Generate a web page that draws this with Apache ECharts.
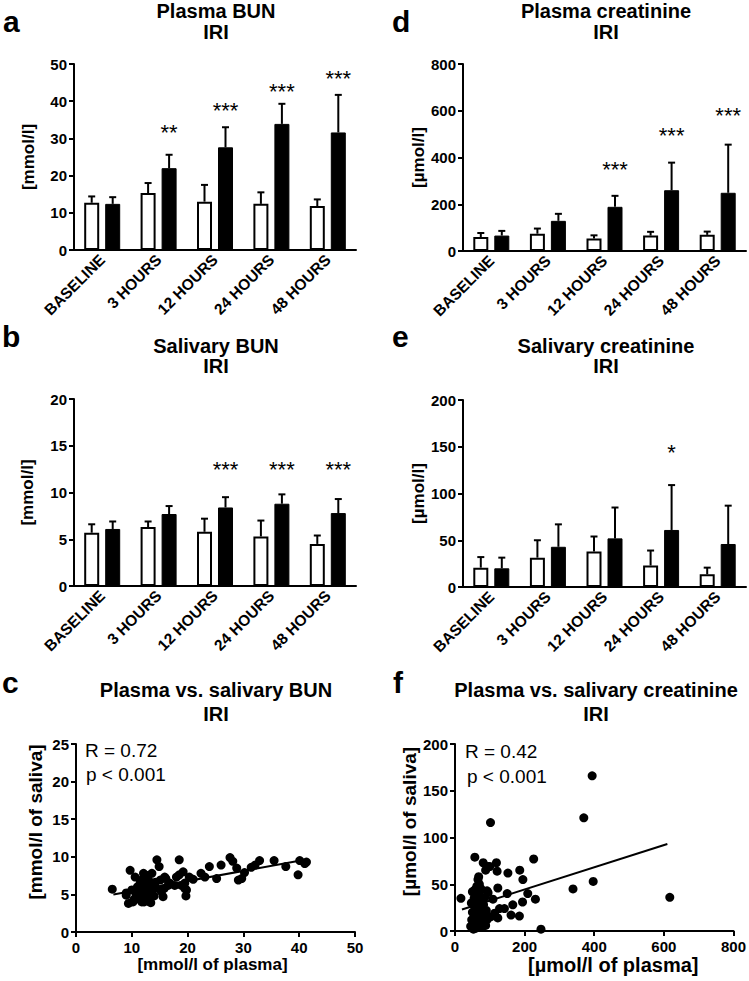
<!DOCTYPE html>
<html><head><meta charset="utf-8">
<script src="https://cdn.jsdelivr.net/npm/echarts@6/dist/echarts.min.js"></script>
<style>html,body{margin:0;padding:0;background:#fff}#c{width:749px;height:981px}</style>
</head><body><div id="c"></div>
<script>
// ---------- data ----------
const categories = ['BASELINE', '3 HOURS', '12 HOURS', '24 HOURS', '48 HOURS'];

// a: Plasma BUN [mmol/l]
const plasmaBunSham = [12.7, 15.3, 13.0, 12.4, 11.8];
const plasmaBunShamSD = [1.7, 2.7, 4.5, 3.1, 1.8];
const plasmaBunIri = [12.4, 22.0, 27.6, 33.9, 31.6];
const plasmaBunIriSD = [1.8, 3.6, 5.4, 5.4, 10.1];
const plasmaBunStars = ['', '**', '***', '***', '***'];
const plasmaBunStarY = [null, 32.8, 38.8, 44.0, 47.4];

// b: Salivary BUN [mmol/l]
const salivaBunSham = [5.7, 6.3, 5.8, 5.3, 4.5];
const salivaBunShamSD = [0.9, 0.6, 1.4, 1.7, 0.9];
const salivaBunIri = [6.1, 7.7, 8.4, 8.8, 7.8];
const salivaBunIriSD = [0.8, 0.85, 1.1, 1.0, 1.5];
const salivaBunStars = ['', '', '***', '***', '***'];
const salivaBunStarY = [null, null, 13.0, 13.0, 13.0];

// d: Plasma creatinine [µmol/l]
const plasmaCreaSham = [60, 74, 53, 66, 69];
const plasmaCreaShamSD = [17, 22, 14, 16, 14];
const plasmaCreaIri = [66, 129, 189, 260, 249];
const plasmaCreaIriSD = [20, 30, 47, 118, 206];
const plasmaCreaStars = ['', '', '***', '***', '***'];
const plasmaCreaStarY = [null, null, 368, 514, 601];

// e: Salivary creatinine [µmol/l]
const salivaCreaSham = [20.7, 31.4, 38, 23, 13.6];
const salivaCreaShamSD = [11.3, 18.6, 16, 16, 7.1];
const salivaCreaIri = [20, 43, 52, 61, 46];
const salivaCreaIriSD = [11.4, 24, 33, 48, 41];
const salivaCreaStars = ['', '', '', '*', ''];
const salivaCreaStarY = [null, null, null, 149, null];

// c: plasma vs salivary BUN [plasma, saliva]
const bunPairs = [
  [6.5,5.7],[9.0,4.9],[9.0,5.2],[9.4,3.8],[9.7,8.2],[10.0,5.6],[10.3,4.2],[10.6,7.3],[10.2,4.0],[10.8,5.0],
  [11.0,6.0],[11.2,4.4],[11.5,6.5],[11.5,5.6],[11.8,4.0],[12.0,5.2],[12.1,7.8],[12.3,6.8],[12.4,6.0],[12.5,4.6],
  [12.7,4.2],[12.7,6.5],[12.9,7.5],[13.0,6.9],[13.1,5.5],[13.3,5.1],[13.4,3.9],[13.6,7.8],[13.8,6.3],[13.9,5.8],
  [14.0,4.8],[14.2,6.6],[14.5,9.6],[14.9,8.7],[15.1,6.9],[15.3,5.4],[15.6,4.7],[15.8,5.8],[15.9,7.3],[16.1,7.1],
  [16.5,6.2],[16.8,6.5],[17.7,6.2],[18.0,7.3],[18.5,9.6],[18.5,7.6],[18.9,6.2],[19.2,8.0],[19.5,5.8],[19.5,6.5],
  [19.7,4.8],[19.8,5.6],[20.3,7.3],[21.0,7.0],[22.4,7.8],[23.1,7.3],[23.9,8.7],[25.2,7.1],[26.0,8.9],[27.6,9.9],
  [28.1,9.4],[28.8,8.5],[29.1,6.9],[29.7,7.1],[30.2,7.9],[31.4,8.6],[32.1,8.9],[32.9,9.5],[35.5,9.5],[37.6,8.7],
  [39.8,7.6],[40.1,9.5],[41.0,9.1],[41.3,9.3],[11.4,5.0],[10.5,4.4],[12.2,4.0],[14.3,5.9],[13.0,4.1],[11.9,7.0]
];
const bunFit = [[6.7, 5.0], [41.0, 9.6]];

// f: plasma vs salivary creatinine [plasma, saliva]
const creaPairs = [
  [17,35],[394,166],[370,121],[102,116],[226,77],[57,79],[397,53],[339,45],[617,36],[247,2],
  [186,65],[195,55],[152,62],[119,73],[121,64],[81,73],[95,69],[88,65],[209,40],[231,34],
  [194,31],[123,46],[166,28],[142,24],[128,24],[114,19],[161,17],[185,16],[123,14],[102,15],
  [95,41],[150,40],[66,55],[68,58],[57,44],[92,43],[109,34],[100,69],
  [45,5],[48,12],[50,20],[52,28],[55,8],[55,35],[58,15],[58,40],[60,3],[60,25],[62,10],[62,32],
  [64,18],[65,42],[66,5],[67,22],[68,30],[70,12],[70,38],[72,8],[72,26],[74,16],[75,33],[77,4],
  [78,20],[80,10],[82,28],[85,15],[86,36],[88,6],[90,22],[92,12],[50,42],[53,2],[47,30],[63,48],
  [70,50],[75,45],[56,18],[60,45]
];
const creaFit = [[20, 23], [610, 93]];

// ---------- style ----------
const FONT = '"Liberation Sans", Arial, Helvetica, sans-serif';
const BAR_W = 15, GAP = '40%', OFF = 10.5, CAP = 3.5;

const grids = [
  {left: 74, top: 64, width: 282, height: 186},   // a
  {left: 74, top: 399, width: 282, height: 187},  // b
  {left: 76, top: 744, width: 279, height: 188},  // c
  {left: 463, top: 64, width: 283, height: 187},  // d
  {left: 463, top: 400, width: 283, height: 187}, // e
  {left: 455, top: 744, width: 281, height: 187}  // f
];

function catAxis(g) {
  return {type: 'category', gridIndex: g, data: categories,
    axisLine: {lineStyle: {color: '#000', width: 2}},
    axisTick: {alignWithLabel: true, length: 5, lineStyle: {color: '#000', width: 2}},
    axisLabel: {rotate: 45, interval: 0, margin: 7, color: '#000', fontFamily: FONT, fontWeight: 'bold', fontSize: 15.5}};
}
function valAxis(g, min, max, interval, name, nameGap, nameSize, isX, extra) {
  return {type: 'value', gridIndex: g, min, max, interval,
    splitLine: {show: false},
    axisLine: {show: true, lineStyle: {color: '#000', width: 2}},
    axisTick: {show: true, length: 5, lineStyle: {color: '#000', width: 2}},
    axisLabel: {color: '#000', fontFamily: FONT, fontWeight: 'bold', fontSize: 15, margin: isX ? 8 : 7},
    name, nameLocation: 'middle', nameGap,
    nameTextStyle: Object.assign({color: '#000', fontFamily: FONT, fontWeight: 'bold', fontSize: nameSize}, extra || {})};
}
function barSeries(g, sham, iri) {
  return [
    {type: 'bar', name: 'Sham', xAxisIndex: g, yAxisIndex: g, data: sham, barWidth: BAR_W, barGap: GAP,
      itemStyle: {color: '#fff', borderColor: '#000', borderWidth: 2}},
    {type: 'bar', name: 'IRI', xAxisIndex: g, yAxisIndex: g, data: iri, barWidth: BAR_W, barGap: GAP,
      itemStyle: {color: '#000', borderColor: '#000', borderWidth: 1}}
  ];
}
function errSeries(g, means, sds, offset) {
  return {type: 'custom', xAxisIndex: g, yAxisIndex: g, silent: true, z: 5,
    data: means.map((m, i) => [i, m, m + sds[i]]),
    renderItem: (params, api) => {
      const b = api.coord([api.value(0), api.value(1)]);
      const t = api.coord([api.value(0), api.value(2)]);
      const x = b[0] + offset;
      return {type: 'group', children: [
        {type: 'line', shape: {x1: x, y1: b[1], x2: x, y2: t[1]}, style: {stroke: '#000', lineWidth: 2}},
        {type: 'line', shape: {x1: x - CAP, y1: t[1], x2: x + CAP, y2: t[1]}, style: {stroke: '#000', lineWidth: 2}}
      ]};
    }};
}
function starSeries(g, labels, ys, offset) {
  return {type: 'custom', xAxisIndex: g, yAxisIndex: g, silent: true, z: 6,
    data: ys.map((v, i) => [i, v == null ? 0 : v]),
    renderItem: (params, api) => {
      const lab = labels[params.dataIndex];
      if (!lab) return null;
      const p = api.coord([api.value(0), api.value(1)]);
      return {type: 'text', x: p[0] + offset, y: p[1] + 5,
        style: {text: lab, font: '22px ' + FONT, fill: '#000', textAlign: 'center', textVerticalAlign: 'middle'}};
    }};
}
function txt(x, y, text, size, weight, align) {
  return {type: 'text', x, y, silent: true,
    style: {text, font: (weight || 'normal') + ' ' + size + 'px ' + FONT, fill: '#000',
      textAlign: align || 'left', textVerticalAlign: 'middle'}};
}

const xAxes = [catAxis(0), catAxis(1),
  valAxis(2, 0, 50, 10, '[mmol/l of plasma]', 14, 17, true, {padding: [0, 6, 0, 0]}),
  catAxis(3), catAxis(4),
  valAxis(5, 0, 800, 200, '[µmol/l of plasma]', 14, 20, true, {padding: [0, 0, 0, 38]})];
const yAxes = [
  valAxis(0, 0, 50, 10, '[mmol/l]', 37, 17),
  valAxis(1, 0, 20, 5, '[mmol/l]', 38, 17),
  valAxis(2, 0, 25, 5, '[mmol/l of saliva]', 31, 19, false, {padding: [0, 0, 0, 32]}),
  valAxis(3, 0, 800, 200, '[µmol/l]', 35, 17),
  valAxis(4, 0, 200, 50, '[µmol/l]', 35, 17),
  valAxis(5, 0, 200, 50, '[µmol/l of saliva]', 31, 19, false, {padding: [0, 0, 0, 32]})
];

const series = [].concat(
  barSeries(0, plasmaBunSham, plasmaBunIri),
  [errSeries(0, plasmaBunSham, plasmaBunShamSD, -OFF), errSeries(0, plasmaBunIri, plasmaBunIriSD, OFF),
   starSeries(0, plasmaBunStars, plasmaBunStarY, OFF)],
  barSeries(1, salivaBunSham, salivaBunIri),
  [errSeries(1, salivaBunSham, salivaBunShamSD, -OFF), errSeries(1, salivaBunIri, salivaBunIriSD, OFF),
   starSeries(1, salivaBunStars, salivaBunStarY, OFF)],
  barSeries(3, plasmaCreaSham, plasmaCreaIri),
  [errSeries(3, plasmaCreaSham, plasmaCreaShamSD, -OFF), errSeries(3, plasmaCreaIri, plasmaCreaIriSD, OFF),
   starSeries(3, plasmaCreaStars, plasmaCreaStarY, OFF)],
  barSeries(4, salivaCreaSham, salivaCreaIri),
  [errSeries(4, salivaCreaSham, salivaCreaShamSD, -OFF), errSeries(4, salivaCreaIri, salivaCreaIriSD, OFF),
   starSeries(4, salivaCreaStars, salivaCreaStarY, OFF)],
  [
    {type: 'scatter', xAxisIndex: 2, yAxisIndex: 2, data: bunPairs, symbolSize: 9, itemStyle: {color: '#000', opacity: 1}},
    {type: 'line', xAxisIndex: 2, yAxisIndex: 2, data: bunFit, symbol: 'none', lineStyle: {color: '#000', width: 2}, z: 3},
    {type: 'scatter', xAxisIndex: 5, yAxisIndex: 5, data: creaPairs, symbolSize: 9, itemStyle: {color: '#000', opacity: 1}},
    {type: 'line', xAxisIndex: 5, yAxisIndex: 5, data: creaFit, symbol: 'none', lineStyle: {color: '#000', width: 2}, z: 3}
  ]
);

const graphic = [
  // panel letters
  txt(3, 21.6, 'a', 30, 'bold'), txt(392, 21.6, 'd', 30, 'bold'),
  txt(2, 336.6, 'b', 30, 'bold'), txt(392, 336.6, 'e', 30, 'bold'),
  txt(2, 682.6, 'c', 30, 'bold'), txt(393, 682.6, 'f', 30, 'bold'),
  // titles
  txt(216, 10.5, 'Plasma BUN', 20, 'bold', 'center'), txt(216, 31.5, 'IRI', 20, 'bold', 'center'),
  txt(606, 10.5, 'Plasma creatinine', 20, 'bold', 'center'), txt(606, 31.5, 'IRI', 20, 'bold', 'center'),
  txt(216, 345.5, 'Salivary BUN', 20, 'bold', 'center'), txt(216, 366, 'IRI', 20, 'bold', 'center'),
  txt(606, 345.5, 'Salivary creatinine', 20, 'bold', 'center'), txt(606, 366, 'IRI', 20, 'bold', 'center'),
  txt(216, 690, 'Plasma vs. salivary BUN', 20, 'bold', 'center'), txt(216, 713.5, 'IRI', 20, 'bold', 'center'),
  txt(596, 690, 'Plasma vs. salivary creatinine', 20, 'bold', 'center'), txt(596, 713.5, 'IRI', 20, 'bold', 'center'),
  // statistics
  txt(85, 750.5, 'R = 0.72', 19), txt(86, 774.5, 'p < 0.001', 19),
  txt(465, 751, 'R = 0.42', 19), txt(467, 776.5, 'p < 0.001', 19)
];

const chart = echarts.init(document.getElementById('c'), null, {renderer: 'svg', width: 749, height: 981});
chart.setOption({
  animation: false,
  backgroundColor: '#fff',
  grid: grids,
  xAxis: xAxes,
  yAxis: yAxes,
  series,
  graphic
});
</script>
</body></html>
